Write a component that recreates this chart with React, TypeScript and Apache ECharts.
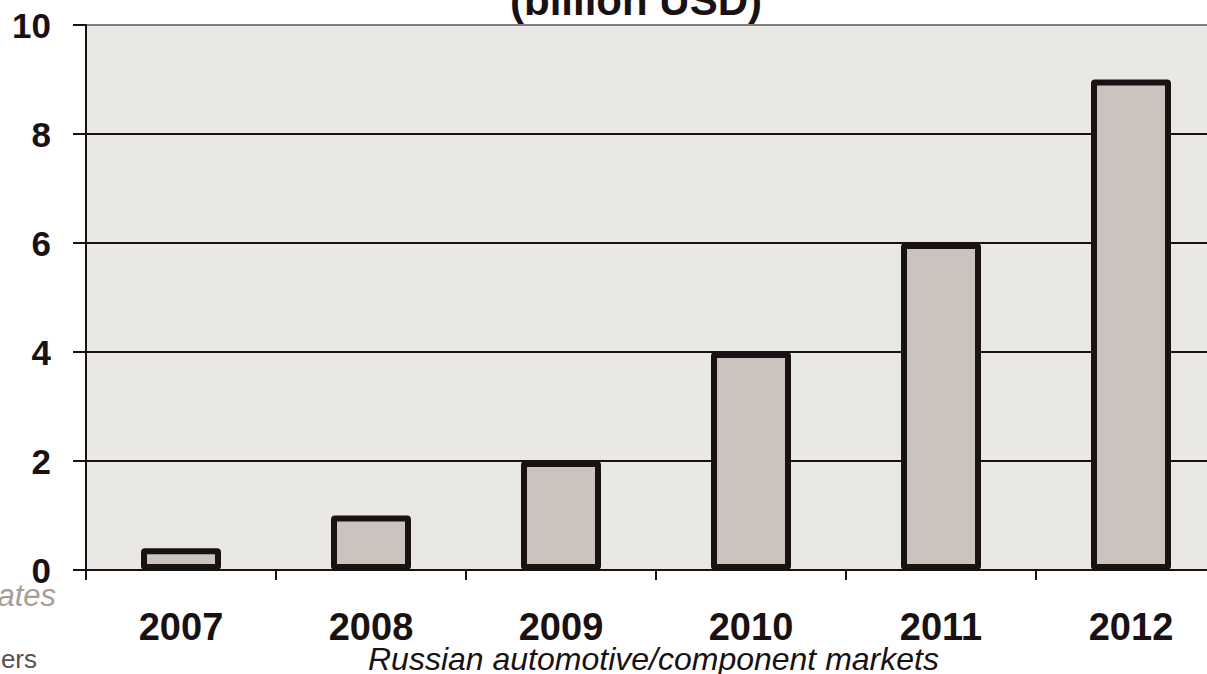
import React, { useEffect, useRef } from "react";
import * as echarts from "echarts";

const years = ["2007", "2008", "2009", "2010", "2011", "2012"];
const salesBillionUsd = [0.4, 1, 2, 4, 6, 9];
const yTicks = { min: 0, max: 10, interval: 2 };

const FONT = "'Liberation Sans', Arial, sans-serif";
const INK = "#1a1212";

// The plot runs a little past the right edge of the visible frame.
const FRAME_W = 1207;
const FRAME_H = 674;
const CANVAS_W = 1240;

export default function App() {
  const ref = useRef<HTMLDivElement>(null);

  useEffect(() => {
    if (!ref.current) return;
    const chart = echarts.init(ref.current, undefined, { renderer: "svg" });
    chart.setOption({
      animation: false,
      backgroundColor: "#ffffff",
      textStyle: { fontFamily: FONT },
      grid: {
        left: 86,
        top: 25,
        right: CANVAS_W - 1226,
        bottom: 104,
        show: true,
        backgroundColor: "#eae8e4",
        borderWidth: 0,
      },
      xAxis: {
        type: "category",
        data: years,
        axisLine: { show: true, lineStyle: { color: INK, width: 2 } },
        axisTick: { show: true, length: 10, lineStyle: { color: INK, width: 2 } },
        axisLabel: {
          color: INK,
          fontSize: 38,
          fontWeight: "bold",
          fontFamily: FONT,
          margin: 38,
        },
      },
      yAxis: {
        type: "value",
        min: yTicks.min,
        max: yTicks.max,
        interval: yTicks.interval,
        axisLine: { show: true, lineStyle: { color: INK, width: 2 } },
        axisTick: { show: true, length: 13, lineStyle: { color: INK, width: 2 } },
        axisLabel: {
          color: INK,
          fontSize: 35,
          fontWeight: "bold",
          fontFamily: FONT,
          margin: 35,
        },
        splitLine: {
          show: true,
          lineStyle: {
            color: [INK, INK, INK, INK, INK, "#808080"],
            width: 2,
          },
        },
      },
      series: [
        {
          type: "bar",
          data: salesBillionUsd,
          barWidth: 80,
          itemStyle: {
            color: "#cbc3be",
            borderColor: INK,
            borderWidth: 6,
            borderJoin: "round",
            borderRadius: 1,
          },
        },
      ],
      graphic: [
        {
          type: "text",
          x: 636,
          y: 0,
          style: {
            text: "(billion USD)",
            font: `bold 42px ${FONT}`,
            fill: INK,
            align: "center",
            verticalAlign: "middle",
          },
        },
        {
          type: "text",
          x: 56,
          y: 595,
          style: {
            text: "ates",
            font: `italic 31px ${FONT}`,
            fill: "#a69e98",
            align: "right",
            verticalAlign: "middle",
          },
        },
        {
          type: "text",
          x: 37,
          y: 659,
          style: {
            text: "ers",
            font: `26px ${FONT}`,
            fill: "#5c4f4f",
            align: "right",
            verticalAlign: "middle",
          },
        },
        {
          type: "text",
          x: 368,
          y: 659,
          style: {
            text: "Russian automotive/component markets",
            font: `italic 32px ${FONT}`,
            fill: INK,
            align: "left",
            verticalAlign: "middle",
          },
        },
      ],
    });
    return () => chart.dispose();
  }, []);

  return (
    <div
      style={{
        position: "fixed",
        left: 0,
        top: 0,
        width: FRAME_W,
        height: FRAME_H,
        overflow: "hidden",
        background: "#ffffff",
      }}
    >
      <div ref={ref} style={{ width: CANVAS_W, height: FRAME_H }} />
    </div>
  );
}
